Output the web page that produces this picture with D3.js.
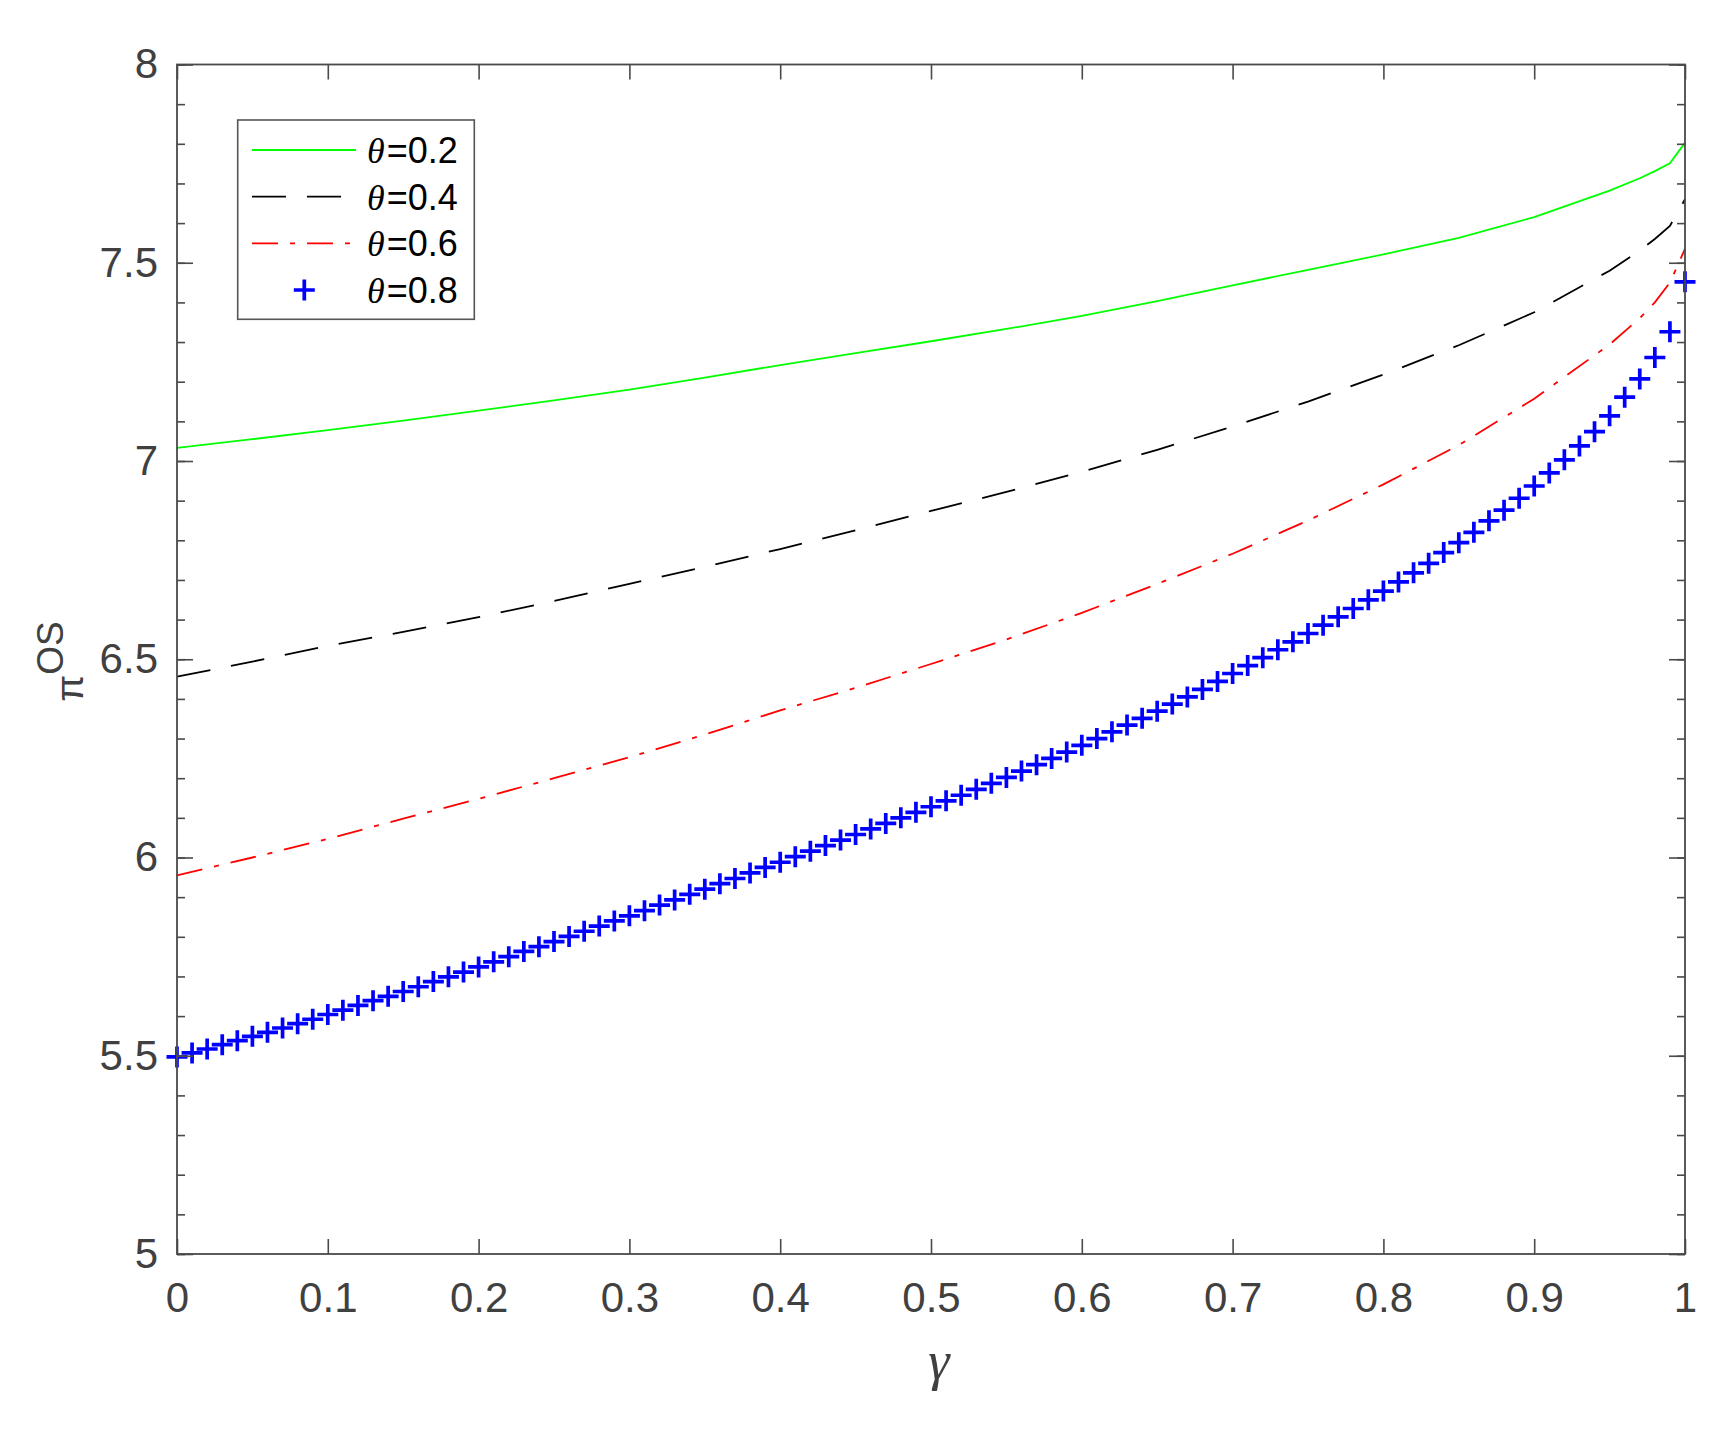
<!DOCTYPE html>
<html>
<head>
<meta charset="utf-8">
<script src="https://cdn.jsdelivr.net/npm/d3@7"></script>
<style>
  body { margin: 0; background: #fff; }
  svg { display: block; }
</style>
</head>
<body>
<svg id="chart" width="1736" height="1436"></svg>
<script>
// ---------- data ----------
const gammaLine = [0, 0.05, 0.1, 0.15, 0.2, 0.25, 0.3, 0.35, 0.4, 0.45, 0.5, 0.55, 0.6, 0.65, 0.7, 0.75, 0.8, 0.85, 0.9, 0.95, 0.97, 0.98, 0.99, 1.0];
const theta02 = [7.033, 7.055, 7.078, 7.102, 7.127, 7.153, 7.180, 7.210, 7.242, 7.272, 7.302, 7.333, 7.366, 7.403, 7.443, 7.482, 7.521, 7.563, 7.615, 7.682, 7.713, 7.731, 7.751, 7.803];
const theta04 = [6.456, 6.494, 6.534, 6.569, 6.606, 6.647, 6.690, 6.733, 6.778, 6.825, 6.874, 6.922, 6.973, 7.028, 7.087, 7.150, 7.218, 7.292, 7.375, 7.480, 7.531, 7.560, 7.593, 7.660];
const theta06 = [5.955, 6.000, 6.047, 6.098, 6.148, 6.200, 6.253, 6.310, 6.371, 6.428, 6.488, 6.550, 6.617, 6.690, 6.766, 6.850, 6.941, 7.040, 7.157, 7.294, 7.360, 7.400, 7.450, 7.535];

const gammaMarkers = [0,0.01,0.02,0.03,0.04,0.05,0.06,0.07,0.08,0.09,0.1,0.11,0.12,0.13,0.14,0.15,0.16,0.17,0.18,0.19,0.2,0.21,0.22,0.23,0.24,0.25,0.26,0.27,0.28,0.29,0.3,0.31,0.32,0.33,0.34,0.35,0.36,0.37,0.38,0.39,0.4,0.41,0.42,0.43,0.44,0.45,0.46,0.47,0.48,0.49,0.5,0.51,0.52,0.53,0.54,0.55,0.56,0.57,0.58,0.59,0.6,0.61,0.62,0.63,0.64,0.65,0.66,0.67,0.68,0.69,0.7,0.71,0.72,0.73,0.74,0.75,0.76,0.77,0.78,0.79,0.8,0.81,0.82,0.83,0.84,0.85,0.86,0.87,0.88,0.89,0.9,0.91,0.92,0.93,0.94,0.95,0.96,0.97,0.98,0.99,1.0];
const theta08 = [5.497,5.507,5.517,5.528,5.538,5.549,5.559,5.570,5.581,5.592,
                 5.604,5.615,5.627,5.639,5.650,5.662,5.674,5.687,5.699,5.711,
                 5.724,5.737,5.750,5.763,5.775,5.788,5.801,5.814,5.827,5.840,
                 5.853,5.866,5.880,5.893,5.907,5.920,5.934,5.947,5.961,5.975,
                 5.988,6.002,6.016,6.030,6.044,6.058,6.072,6.086,6.100,6.114,
                 6.128,6.143,6.157,6.172,6.187,6.202,6.218,6.234,6.250,6.266,
                 6.283,6.300,6.317,6.334,6.351,6.369,6.387,6.405,6.424,6.444,
                 6.464,6.484,6.504,6.524,6.544,6.565,6.586,6.607,6.628,6.650,
                 6.672,6.695,6.718,6.742,6.769,6.794,6.820,6.849,6.876,6.906,
                 6.937,6.970,7.003,7.038,7.074,7.114,7.161,7.207,7.261,7.326,
                 7.452];

const xTicks = [0, 0.1, 0.2, 0.3, 0.4, 0.5, 0.6, 0.7, 0.8, 0.9, 1];
const xTickLabels = ["0", "0.1", "0.2", "0.3", "0.4", "0.5", "0.6", "0.7", "0.8", "0.9", "1"];
const yTicks = [5, 5.5, 6, 6.5, 7, 7.5, 8];
const yTickLabels = ["5", "5.5", "6", "6.5", "7", "7.5", "8"];
const legendLabels = ["0.2", "0.4", "0.6", "0.8"];

// ---------- layout ----------
const svg = d3.select("#chart");
const L = 177, R = 1685, T = 64.5, B = 1254;
const x = d3.scaleLinear().domain([0, 1]).range([L, R]);
const y = d3.scaleLinear().domain([5, 8]).range([B, T]);
const axisColor = "#4a4a4a";
const labelColor = "#404040";
const sansFont = "'Liberation Sans', Arial, Helvetica, sans-serif";
const serifFont = "'Liberation Serif', 'Times New Roman', serif";
const yMinor = y.ticks(30);

// ---------- series ----------
const lineGen = d3.line().x(d => x(d[0])).y(d => y(d[1])).curve(d3.curveLinear);
const series = [
  { vals: theta02, color: "#00ff00", dash: null, width: 1.8 },
  { vals: theta04, color: "#000000", dash: "34,21", width: 1.8 },
  { vals: theta06, color: "#ff0000", dash: "26,12,5,12", width: 1.8 }
];
const plot = svg.append("g");
series.forEach(s => {
  plot.append("path")
    .datum(gammaLine.map((g, i) => [g, s.vals[i]]))
    .attr("d", lineGen)
    .attr("fill", "none")
    .attr("stroke", s.color)
    .attr("stroke-width", s.width)
    .attr("stroke-dasharray", s.dash);
});
const plusPath = "M-10.5,0H10.5M0,-10.5V10.5";
plot.selectAll(".mk").data(gammaMarkers.map((g, i) => [g, theta08[i]])).enter()
  .append("path")
  .attr("class", "mk")
  .attr("transform", d => `translate(${x(d[0])},${y(d[1])})`)
  .attr("d", plusPath)
  .attr("stroke", "#0000ff")
  .attr("stroke-width", 3.7)
  .attr("fill", "none");

// ---------- axes ----------
function styleAxis(g) {
  g.select(".domain").remove();
  g.selectAll(".tick line").attr("stroke", axisColor).attr("stroke-width", 1.6);
  g.selectAll(".tick text").attr("fill", labelColor)
    .style("font-family", sansFont).style("font-size", "42px");
}
svg.append("g").attr("transform", `translate(0,${B})`)
  .call(d3.axisBottom(x).tickValues(xTicks).tickFormat((d, i) => xTickLabels[i])
    .tickSizeInner(-15).tickSizeOuter(0).tickPadding(28))
  .call(styleAxis);
svg.append("g").attr("transform", `translate(0,${T})`)
  .call(d3.axisTop(x).tickValues(xTicks).tickFormat("").tickSizeInner(-15).tickSizeOuter(0))
  .call(styleAxis);
svg.append("g").attr("transform", `translate(${L},0)`)
  .call(d3.axisLeft(y).tickValues(yTicks).tickFormat((d, i) => yTickLabels[i])
    .tickSizeInner(-16).tickSizeOuter(0).tickPadding(19))
  .call(styleAxis);
svg.append("g").attr("transform", `translate(${L},0)`)
  .call(d3.axisLeft(y).tickValues(yMinor).tickFormat("").tickSizeInner(-8).tickSizeOuter(0))
  .call(styleAxis);
svg.append("g").attr("transform", `translate(${R},0)`)
  .call(d3.axisRight(y).tickValues(yTicks).tickFormat("").tickSizeInner(-16).tickSizeOuter(0))
  .call(styleAxis);
svg.append("g").attr("transform", `translate(${R},0)`)
  .call(d3.axisRight(y).tickValues(yMinor).tickFormat("").tickSizeInner(-8).tickSizeOuter(0))
  .call(styleAxis);
svg.append("rect").attr("x", L).attr("y", T).attr("width", R - L).attr("height", B - T)
  .attr("fill", "none").attr("stroke", axisColor).attr("stroke-width", 1.8);

// ---------- axis labels ----------
svg.append("text")
  .attr("x", 939).attr("y", 1379)
  .attr("text-anchor", "middle")
  .attr("fill", labelColor)
  .style("font-family", serifFont).style("font-style", "italic").style("font-size", "54px")
  .text("γ");

const yl = svg.append("text")
  .attr("transform", "translate(83,661.5) rotate(-90)")
  .attr("text-anchor", "middle")
  .attr("fill", labelColor)
  .style("font-family", sansFont);
yl.append("tspan").style("font-size", "39px").text("π");
yl.append("tspan").attr("dy", -20).style("font-size", "37px").text("OS");

// ---------- legend ----------
const lg = svg.append("g");
lg.append("rect").attr("x", 237.7).attr("y", 120).attr("width", 236.6).attr("height", 199.3)
  .attr("fill", "#fff").attr("stroke", "#555").attr("stroke-width", 1.6);
const rowY = [150, 196.7, 243.3, 290];
series.forEach((s, i) => {
  lg.append("line").attr("x1", 252).attr("x2", 356).attr("y1", rowY[i]).attr("y2", rowY[i])
    .attr("stroke", s.color).attr("stroke-width", s.width).attr("stroke-dasharray", s.dash);
});
lg.append("path").attr("transform", `translate(304.3,${rowY[3]})`).attr("d", plusPath)
  .attr("stroke", "#0000ff").attr("stroke-width", 3.7).attr("fill", "none");
legendLabels.forEach((lab, i) => {
  const t = lg.append("text").attr("x", 367).attr("y", rowY[i] + 13)
    .attr("fill", "#000").style("font-size", "36px");
  t.append("tspan").style("font-family", serifFont).style("font-style", "italic").text("θ");
  t.append("tspan").attr("dx", 2).style("font-family", sansFont).text("=" + lab);
});
</script>
</body>
</html>
